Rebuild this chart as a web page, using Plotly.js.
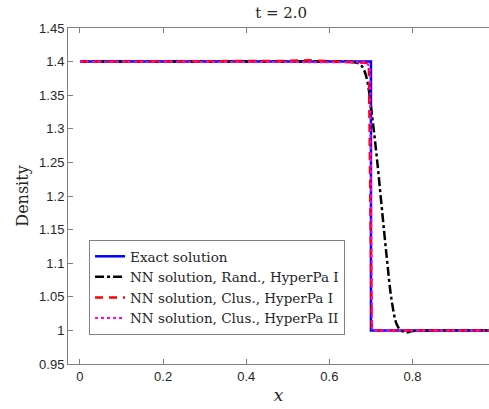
<!DOCTYPE html>
<html><head><meta charset="utf-8">
<script src="https://cdn.plot.ly/plotly-3.0.1.min.js"></script>
<style>html,body{margin:0;padding:0;background:#fff}</style>
</head><body><div id="chart" style="width:489px;height:409px"></div>
<script>
// Exact solution
const exactX = [0, 0.7, 0.7, 1.0];
const exactY = [1.4, 1.4, 1.0, 1.0];
// NN solution, Rand., HyperPa I
const randX = [0, 0.2, 0.4, 0.6, 0.66, 0.674, 0.683, 0.691, 0.702, 0.714, 0.726, 0.738, 0.750, 0.762, 0.772, 0.786, 0.80, 0.85, 1.0];
const randY = [1.4, 1.4, 1.4, 1.4, 1.399, 1.396, 1.388, 1.372, 1.323, 1.258, 1.183, 1.109, 1.044, 1.009, 1.0, 0.997, 0.999, 1.0, 1.0];
// NN solution, Clus., HyperPa I
const clusX = [0, 0.1, 0.2, 0.3, 0.4, 0.5, 0.55, 0.6, 0.65, 0.695, 0.702, 0.705, 0.75, 0.8, 0.85, 0.9, 1.0];
const clusY = [1.4, 1.4, 1.4, 1.4, 1.401, 1.401, 1.402, 1.401, 1.4, 1.398, 1.0, 1.0, 1.001, 1.001, 1.0, 1.0, 1.0];
// NN solution, Clus., HyperPa II
const clus2X = [0, 0.3, 0.6, 0.69, 0.698, 0.703, 0.8, 1.0];
const clus2Y = [1.4, 1.4, 1.4, 1.399, 1.39, 1.0, 1.0, 1.0];

const names = ['Exact solution', 'NN solution, Rand., HyperPa I', 'NN solution, Clus., HyperPa I', 'NN solution, Clus., HyperPa II'];
const xTicks = [0, 0.2, 0.4, 0.6, 0.8];
const xTickText = ['0', '0.2', '0.4', '0.6', '0.8'];
const yTicks = [0.95, 1, 1.05, 1.1, 1.15, 1.2, 1.25, 1.3, 1.35, 1.4, 1.45];
const yTickText = ['0.95', '1', '1.05', '1.1', '1.15', '1.2', '1.25', '1.3', '1.35', '1.4', '1.45'];

const traces = [
  {x: exactX, y: exactY, name: names[0], mode: 'lines', line: {color: '#0000ff', width: 2.5}},
  {x: randX, y: randY, name: names[1], mode: 'lines', line: {color: '#000000', width: 2.5, dash: 'dashdot', shape: 'spline'}},
  {x: clusX, y: clusY, name: names[2], mode: 'lines', line: {color: '#ff0000', width: 2.5, dash: '8px,6px'}},
  {x: clus2X, y: clus2Y, name: names[3], mode: 'lines', line: {color: '#ff00ff', width: 2, dash: 'dot'}}
];

const tickFont = {family: '"Liberation Sans", Arial, sans-serif', size: 13, color: '#262626'};
const serif = '"DejaVu Serif", "Liberation Serif", serif';
const layout = {
  width: 489, height: 409,
  margin: {l: 68, r: 0, t: 28, b: 45},
  paper_bgcolor: '#fff', plot_bgcolor: '#fff',
  showlegend: true,
  title: {text: 't = 2.0', font: {family: serif, size: 15, color: '#262626'}, x: 0.575, xanchor: 'center', y: 0.968, yanchor: 'middle'},
  xaxis: {
    range: [-0.0288, 0.984], tickvals: xTicks, ticktext: xTickText,
    ticks: 'inside', ticklen: 5, tickcolor: '#808080', showline: true, linecolor: '#808080', linewidth: 1,
    mirror: 'ticks', showgrid: false, zeroline: false, tickfont: tickFont,
    title: {text: '<i>x</i>', font: {family: serif, size: 17, color: '#262626'}, standoff: 6}
  },
  yaxis: {
    range: [0.95, 1.45], tickvals: yTicks, ticktext: yTickText,
    ticks: 'inside', ticklen: 5, tickcolor: '#808080', showline: true, linecolor: '#808080', linewidth: 1,
    showgrid: false, zeroline: false, tickfont: tickFont,
    title: {text: 'Density', font: {family: serif, size: 16, color: '#262626'}, standoff: 6}
  },
  legend: {
    x: 0.05, y: 0.369, xanchor: 'left', yanchor: 'top',
    bgcolor: '#fff', bordercolor: '#808080', borderwidth: 1,
    font: {family: serif, size: 13.5, color: '#262626'},
    tracegroupgap: 0, itemwidth: 30
  }
};
Plotly.newPlot('chart', traces, layout, {displayModeBar: false, staticPlot: true});
</script></body></html>
